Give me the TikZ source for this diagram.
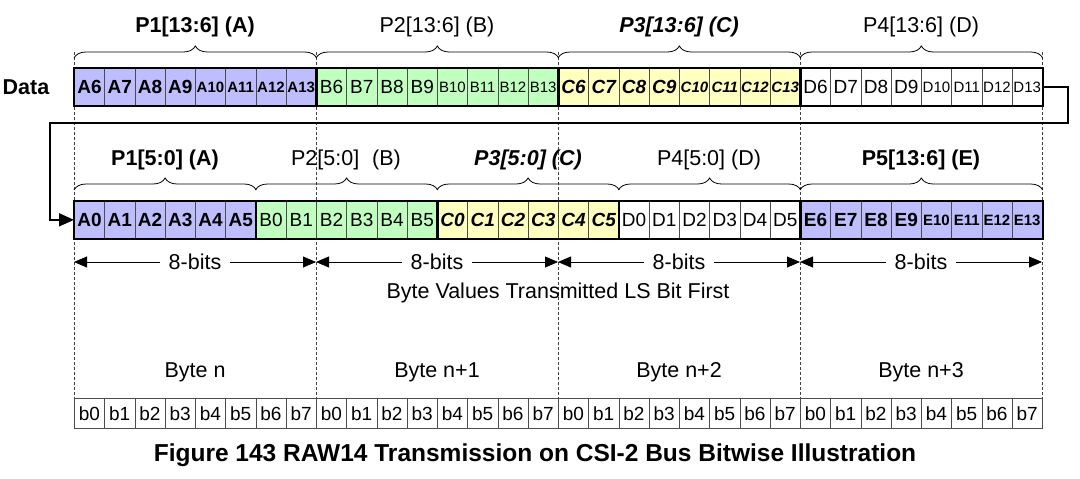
\documentclass[tikz,border=0pt]{standalone}
\usepackage{fontspec}
\setmainfont{Liberation Sans}
\usetikzlibrary{arrows.meta,decorations.pathreplacing}

\definecolor{pixA}{RGB}{190,190,255}
\definecolor{pixB}{RGB}{192,255,192}
\definecolor{pixC}{RGB}{255,255,192}

\newcommand\cellfont{\fontsize{19}{19}\selectfont}
\newcommand\idxfont{\fontsize{15}{15}\selectfont}
\newcommand\labfont{\fontsize{21.5}{21.5}\selectfont}

\tikzset{
  cell/.style={draw=black!70, line width=0.7pt, minimum width=30.25pt, minimum height=37pt, inner sep=0pt, anchor=north west},
  pa/.style={cell, fill=pixA, font=\bfseries\cellfont},
  pb/.style={cell, fill=pixB, font=\cellfont},
  pc/.style={cell, fill=pixC, font=\bfseries\itshape\cellfont},
  pd/.style={cell, fill=white, font=\cellfont},
  bitbox/.style={draw=black!70, line width=0.7pt, minimum width=30.25pt, minimum height=30pt, inner sep=0pt, anchor=north west, font=\cellfont},
  grp/.style={draw=black, line width=1.6pt},
  guide/.style={black!75, line width=0.6pt, dash pattern=on 3pt off 2pt},
  curly/.style={decorate, decoration={brace, amplitude=12pt}, line width=0.8pt},
  wire/.style={line width=1.6pt, -{Triangle[length=15pt,width=13pt]}},
  bitspan/.style={line width=0.8pt, {Triangle[length=13pt,width=11pt]}-{Triangle[length=13pt,width=11pt]}},
}

\begin{document}
\begin{tikzpicture}[x=1pt,y=-1pt]
\useasboundingbox (0,0) rectangle (1080,479);

% byte boundaries
\foreach \j in {0,...,4}
  \draw[guide] ({74+242*\j},52) -- ({74+242*\j},398);

% first row: P[13:6]
\node[font=\bfseries\labfont] (data) at (26,87) {Data};
\foreach \g/\l/\s in {0/A/pa,1/B/pb,2/C/pc,3/D/pd}
  \foreach \k in {0,...,7} {
    \pgfmathtruncatemacro\i{8*\g+\k}
    \pgfmathtruncatemacro\idx{6+\k}
    \node[\s] (d\i) at ({74+\i*30.25},68) {\ifnum\idx>9\idxfont\fi\l\idx};
  }
\foreach \a/\b in {0/7,8/15,16/23,24/31}
  \draw[grp] (d\a.north west) rectangle (d\b.south east);
\foreach \a/\b in {0/7,8/15,16/23,24/31}
  \draw[curly] ([yshift=10pt]d\a.north west) -- ([yshift=10pt]d\b.north east);
\node[font=\bfseries\labfont] (l1a) at (195,27) {P1[13:6] (A)};
\node[font=\labfont] (l1b) at (437,27) {P2[13:6] (B)};
\node[font=\bfseries\itshape\labfont] (l1c) at (679,27) {P3[13:6] (C)};
\node[font=\labfont] (l1d) at (921,27) {P4[13:6] (D)};

% second row: P[5:0] and next pixel
\foreach \g/\l/\s in {0/A/pa,1/B/pb,2/C/pc,3/D/pd}
  \foreach \k in {0,...,5} {
    \pgfmathtruncatemacro\i{6*\g+\k}
    \node[\s] (s\i) at ({74+\i*30.25},201) {\l\k};
  }
\foreach \k in {0,...,7} {
  \pgfmathtruncatemacro\i{24+\k}
  \pgfmathtruncatemacro\idx{6+\k}
  \node[pa] (s\i) at ({74+\i*30.25},201) {\ifnum\idx>9\idxfont\fi E\idx};
}
\foreach \a/\b in {0/5,6/11,12/17,18/23,24/31}
  \draw[grp] (s\a.north west) rectangle (s\b.south east);
\foreach \a/\b in {0/5,6/11,12/17,18/23,24/31}
  \draw[curly] ([yshift=11pt]s\a.north west) -- ([yshift=11pt]s\b.north east);
\node[font=\bfseries\labfont] (l2a) at (165,160) {P1[5:0] (A)};
\node[font=\labfont] (l2b) at (346,160) {P2[5:0]\hspace{13pt}(B)};
\node[font=\bfseries\itshape\labfont] (l2c) at (528,160) {P3[5:0] (C)};
\node[font=\labfont] (l2d) at (709,160) {P4[5:0] (D)};
\node[font=\bfseries\labfont] (l2e) at (921,160) {P5[13:6] (E)};

% wrap-around
\coordinate (turn) at (50,123);
\draw[wire] (d31.east) -- ++(25,0) |- (turn) |- (s0.west);

% byte widths
\foreach \j in {0,...,4}
  \coordinate (m\j) at ({74+242*\j},262);
\foreach \a/\b in {0/1,1/2,2/3,3/4}
  \draw[bitspan] (m\a) -- (m\b) node[midway, fill=white, inner xsep=9pt, font=\labfont] {8-bits};
\node[font=\labfont] (lsb) at (558,293) {Byte Values Transmitted LS Bit First};

% bytes
\foreach \j/\t in {0/Byte n,1/Byte n+1,2/Byte n+2,3/Byte n+3}
  \node[font=\labfont] (byte\j) at ({195+242*\j},372) {\t};
\foreach \i in {0,...,31} {
  \pgfmathtruncatemacro\k{mod(\i,8)}
  \node[bitbox] (b\i) at ({74+\i*30.25},398) {b\k};
}

\node[font=\bfseries\fontsize{24.5}{24.5}\selectfont] (cap) at (535,455) {Figure 143 RAW14 Transmission on CSI-2 Bus Bitwise Illustration};
\end{tikzpicture}
\end{document}
